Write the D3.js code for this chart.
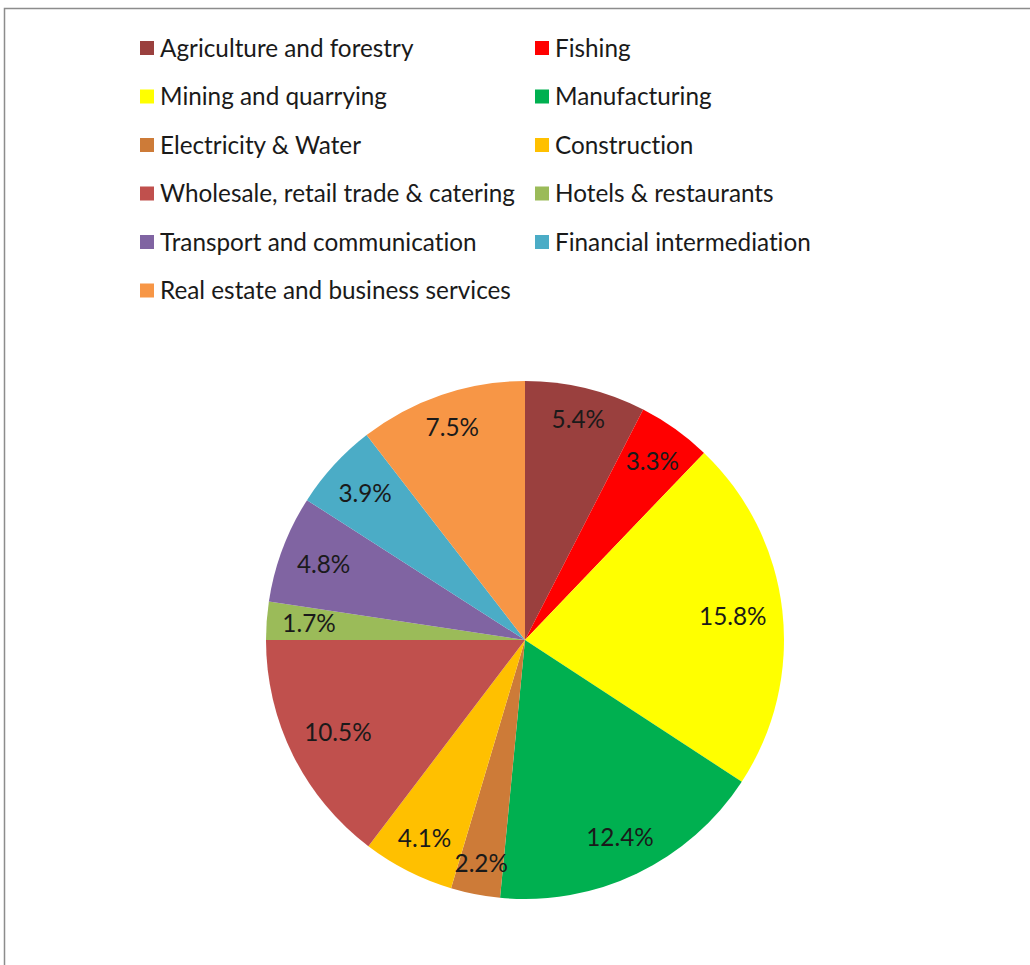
<!DOCTYPE html>
<html>
<head>
<meta charset="utf-8">
<script src="https://cdn.jsdelivr.net/npm/d3@7"></script>
<style>
  body { margin: 0; background: #fff; }
  svg { display: block; }
  text { font-family: Lato, "Open Sans", sans-serif; fill: #1a1a1a; font-variant-ligatures: none; }
</style>
</head>
<body>
<svg width="1030" height="965"></svg>
<script>
// sectors, shares (%) and Excel-style colours
const sectors = [
  "Agriculture and forestry", "Fishing", "Mining and quarrying", "Manufacturing",
  "Electricity & Water", "Construction", "Wholesale, retail trade & catering",
  "Hotels & restaurants", "Transport and communication", "Financial intermediation",
  "Real estate and business services"
];
const shares = [5.4, 3.3, 15.8, 12.4, 2.2, 4.1, 10.5, 1.7, 4.8, 3.9, 7.5];
const colors = [
  "#9a403e", "#ff0000", "#ffff00", "#00b050", "#cd7b38", "#ffc000",
  "#c0504d", "#9bbb59", "#8064a2", "#4bacc6", "#f79646"
];

const svg = d3.select("svg");
const fontSize = 24.3;

// chart frame (runs off the right and bottom edge)
svg.append("rect")
    .attr("x", 4.5).attr("y", 8.5)
    .attr("width", 1100).attr("height", 1100)
    .attr("fill", "none")
    .attr("stroke", "#8c8c8c")
    .attr("stroke-width", 1.5);

// legend, two columns
const legend = svg.append("g");
const item = legend.selectAll("g")
    .data(sectors)
    .enter()
    .append("g")
    .attr("transform", (d, i) => `translate(${i % 2 === 0 ? 140 : 535},${48 + Math.floor(i / 2) * 48.5})`);

item.append("rect")
    .attr("x", 0).attr("y", -7)
    .attr("width", 14).attr("height", 14)
    .attr("fill", (d, i) => colors[i]);

item.append("text")
    .attr("x", 20)
    .attr("dy", "0.35em")
    .style("font-size", fontSize + "px")
    .text(d => d);

// pie
const cx = 525, cy = 640, radius = 259;
const pie = d3.pie().sort(null).value(d => d);
const arc = d3.arc().innerRadius(0).outerRadius(radius);
const arcs = pie(shares);

const g = svg.append("g").attr("transform", `translate(${cx},${cy})`);

g.selectAll("path")
    .data(arcs)
    .enter()
    .append("path")
    .attr("d", arc)
    .attr("fill", (d, i) => colors[i]);

// labels placed "inside end": pull the text box in so it sits just inside the rim
const labels = g.selectAll("text.lbl")
    .data(arcs)
    .enter()
    .append("text")
    .attr("class", "lbl")
    .attr("text-anchor", "middle")
    .attr("dy", "0.35em")
    .style("font-size", fontSize + "px")
    .text(d => d.data.toFixed(1) + "%");

labels.each(function(d) {
    const w = this.getComputedTextLength();
    const h = 22;
    const a = (d.startAngle + d.endAngle) / 2;
    const s = Math.sin(a), c = -Math.cos(a);
    const dist = radius - 15 - (Math.abs(s) * w / 2 + Math.abs(c) * h / 2);
    d3.select(this).attr("x", s * dist).attr("y", c * dist);
});
</script>
</body>
</html>
